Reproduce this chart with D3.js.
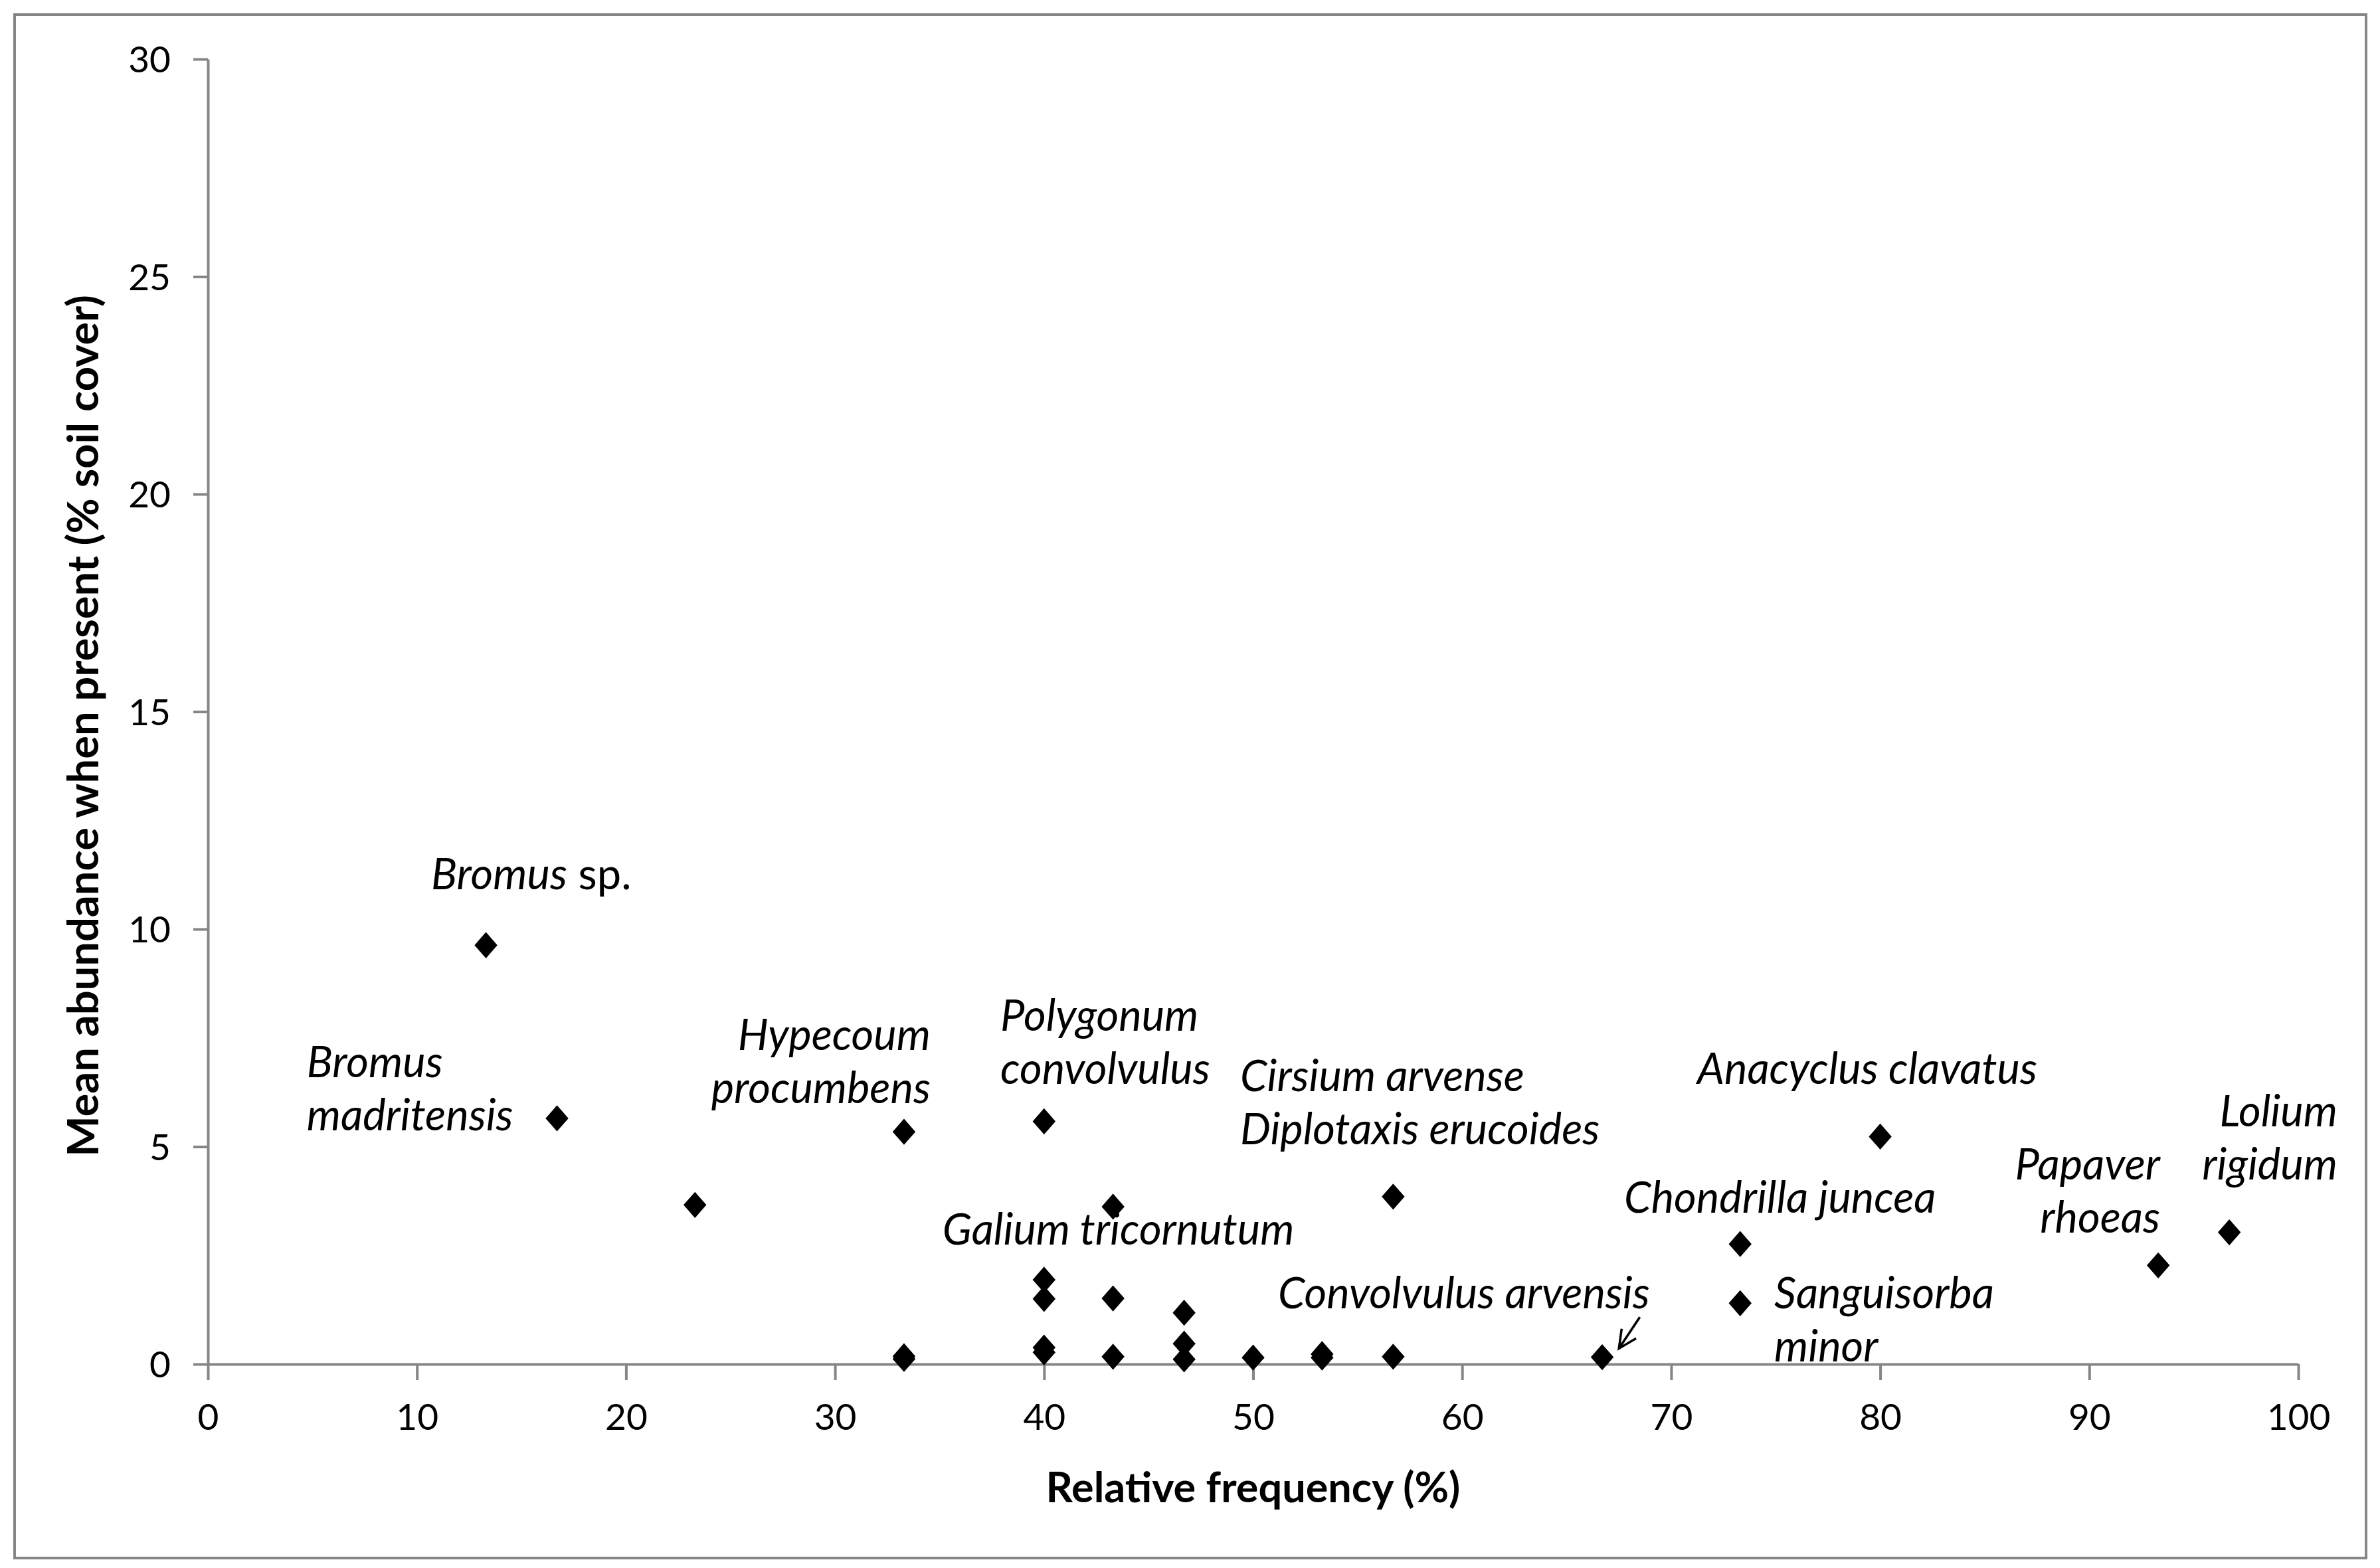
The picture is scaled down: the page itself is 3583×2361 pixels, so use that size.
<!DOCTYPE html>
<html><head><meta charset="utf-8">
<script src="https://cdn.jsdelivr.net/npm/d3@7"></script>
<style>html,body{margin:0;padding:0;background:#fff;}svg{display:block;}</style>
</head><body>
<svg id="chart" width="3583" height="2361"></svg>
<script>
// ---- data ----
const relFreq = [13.3, 16.7, 23.3, 33.3, 33.3, 33.3, 40, 40, 40, 40, 40, 43.3, 43.3, 43.3, 46.7, 46.7, 46.7, 50, 53.3, 53.3, 56.7, 56.7, 66.7, 73.3, 73.3, 80, 93.3, 96.7];
const meanAbund = [9.63, 5.65, 3.66, 5.34, 0.12, 0.18, 5.58, 1.94, 1.50, 0.38, 0.27, 3.62, 1.51, 0.17, 1.18, 0.47, 0.11, 0.15, 0.15, 0.23, 3.85, 0.17, 0.16, 2.76, 1.40, 5.23, 2.27, 3.03];
const xTicks = [0, 10, 20, 30, 40, 50, 60, 70, 80, 90, 100];
const yTicks = [0, 5, 10, 15, 20, 25, 30];
const xTitle = "Relative frequency (%)";
const yTitle = "Mean abundance when present (% soil cover)";
// species labels: lines of [text, italic]
const labelLines = [
  [[["Bromus", true], [" sp.", false]]],
  [[["Bromus", true]], [["madritensis", true]]],
  [[["Hypecoum", true]], [["procumbens", true]]],
  [[["Polygonum", true]], [["convolvulus", true]]],
  [[["Cirsium arvense", true]], [["Diplotaxis erucoides", true]]],
  [[["Galium tricornutum", true]]],
  [[["Convolvulus arvensis", true]]],
  [[["Anacyclus clavatus", true]]],
  [[["Chondrilla juncea", true]]],
  [[["Sanguisorba", true]], [["minor", true]]],
  [[["Papaver", true]], [["rhoeas", true]]],
  [[["Lolium", true]], [["rigidum", true]]]
];
// label anchor positions in data units (first baseline) and alignment
const labelX = [10.68, 4.73, 34.57, 37.91, 49.38, 35.14, 51.19, 71.24, 67.75, 74.93, 93.39, 101.87];
const labelY = [10.92, 6.60, 7.22, 7.66, 6.27, 2.75, 1.28, 6.44, 3.48, 1.28, 4.24, 5.47];
const labelAnchor = ["start","start","end","start","start","start","start","start","start","start","end","end"];

// ---- layout ----
const W = 3583, H = 2361;
const m = {left: 313, right: 3583 - 3460, top: 89, bottom: 2361 - 2054};
const svg = d3.select("#chart");
const x = d3.scaleLinear().domain([0, 100]).range([m.left, W - m.right]);
const y = d3.scaleLinear().domain([0, 30]).range([H - m.bottom, m.top]);
const axisColor = "#868686";
const font = "Lato, 'Open Sans', sans-serif";

// outer border
svg.append("rect").attr("x", 22).attr("y", 22).attr("width", 3540).attr("height", 2324)
  .attr("fill", "#fff").attr("stroke", axisColor).attr("stroke-width", 4);

// axes
const gx = svg.append("g").attr("transform", `translate(0,${y(0)})`)
  .call(d3.axisBottom(x).tickValues(xTicks).tickSize(24).tickPadding(36).tickSizeOuter(0));
const gy = svg.append("g").attr("transform", `translate(${x(0)},0)`)
  .call(d3.axisLeft(y).tickValues(yTicks).tickSize(22).tickPadding(34).tickSizeOuter(0));
[gx, gy].forEach(g => {
  g.select(".domain").attr("stroke", axisColor).attr("stroke-width", 4);
  g.selectAll(".tick line").attr("stroke", axisColor).attr("stroke-width", 4);
  g.selectAll(".tick text").attr("fill", "#000").style("font-family", font).style("font-size", "55px");
});
gx.selectAll(".tick text").attr("dy", "0.71em");
gy.selectAll(".tick text").attr("dy", "0.36em");

// axis titles
svg.append("text").attr("x", (x(0) + x(100)) / 2).attr("y", 2262)
  .attr("text-anchor", "middle").style("font-family", font).style("font-weight", "bold")
  .style("font-size", "63px").text(xTitle);
svg.append("text").attr("transform", `translate(148,1093) rotate(-90)`)
  .attr("text-anchor", "middle").style("font-family", font).style("font-weight", "bold")
  .style("font-size", "65px").text(yTitle);

// points
const diamond = d3.symbol(d3.symbolSquare, 700);
svg.append("g").selectAll("path").data(relFreq.map((f, i) => [f, meanAbund[i]]))
  .join("path")
  .attr("d", diamond)
  .attr("transform", d => `translate(${x(d[0])},${y(d[1])}) scale(0.92,1.05) rotate(45)`)
  .attr("fill", "#000");

// labels
const lineH = 80;
const lg = svg.append("g").style("font-family", font).style("font-size", "65px");
labelLines.forEach((lines, i) => {
  lines.forEach((segs, j) => {
    const t = lg.append("text").attr("x", x(labelX[i])).attr("y", y(labelY[i]) + j * lineH)
      .attr("text-anchor", labelAnchor[i]);
    segs.forEach(s => t.append("tspan").style("font-style", s[1] ? "italic" : "normal").text(s[0]));
  });
});

// arrow for Convolvulus arvensis
const a0 = [68.5, 1.08], a1 = [67.5, 0.36];
svg.append("line").attr("x1", x(a0[0])).attr("y1", y(a0[1])).attr("x2", x(a1[0])).attr("y2", y(a1[1]))
  .attr("stroke", "#000").attr("stroke-width", 3.5);
(function(){
  const x1 = x(a1[0]), y1 = y(a1[1]);
  const ang = Math.atan2(y(a1[1]) - y(a0[1]), x(a1[0]) - x(a0[0]));
  const L = 30, spread = 0.45;
  const p = [[x1 - L*Math.cos(ang - spread), y1 - L*Math.sin(ang - spread)], [x1, y1], [x1 - L*Math.cos(ang + spread), y1 - L*Math.sin(ang + spread)]];
  svg.append("path").attr("d", d3.line()(p)).attr("fill", "none").attr("stroke", "#000").attr("stroke-width", 3.5);
})();
</script>
</body></html>
